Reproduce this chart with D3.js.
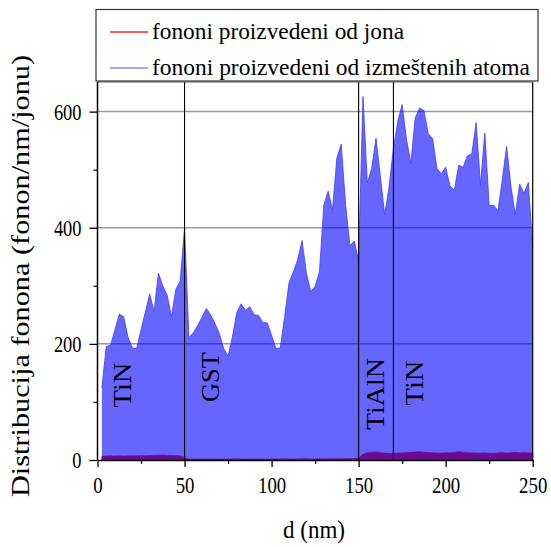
<!DOCTYPE html>
<html>
<head>
<meta charset="utf-8">
<script src="https://cdn.jsdelivr.net/npm/d3@7"></script>
<style>
  html, body { margin: 0; padding: 0; background: #fff; }
  svg { display: block; }
  text { font-family: "Liberation Serif", "DejaVu Serif", serif; fill: #000; }
</style>
</head>
<body>
<svg id="chart" width="551" height="547"></svg>
<script>
// ---- data ----
const dNm = [2.5,5,7.5,10,12.5,15,17.5,20,22.5,25,27.5,30,32.5,35,37.5,40,42.5,45,47.5,50,
  52.5,55,57.5,60,62.5,65,67.5,70,72.5,75,77.5,80,82.5,85,87.5,90,92.5,95,97.5,100,
  102.5,105,107.5,110,112.5,115,117.5,120,122.5,125,127.5,130,132.5,135,137.5,140,142.5,145,147.5,150,
  152.5,155,157.5,160,162.5,165,167.5,170,172.5,175,177.5,180,182.5,185,187.5,190,192.5,195,197.5,200,
  202.5,205,207.5,210,212.5,215,217.5,220,222.5,225,227.5,230,232.5,235,237.5,240,242.5,245,247.5,250];

const displacedAtoms = [124,195,198,224,251,247,212,193,192,224,255,286,255,322,300,284,247,294,308,399,
  211,219,231,246,261,250,235,218,192,179,212,254,269,258,264,250,249,237,236,215,
  192,193,247,305,324,345,378,322,290,299,324,439,463,431,520,544,440,369,377,343,
  626,477,502,554,488,422,471,537,583,612,552,511,589,606,602,562,554,502,493,504,
  472,465,508,504,524,527,581,474,563,438,439,429,482,540,471,422,475,459,478,367];

const ions = [6.5,7,7.2,7,7.3,7,7.2,7.5,7.4,7.6,7.4,7.8,8,8.3,8.6,8.2,7.9,7.6,7.2,4.5,
  1.8,1.6,1.7,1.9,1.6,1.5,1.7,1.8,1.6,1.7,1.9,2,1.8,1.7,1.6,1.8,1.9,1.7,1.6,1.8,
  1.7,1.9,2,1.8,1.7,1.9,2.1,2,1.8,1.9,2.2,2,2.1,2.3,2.1,2.2,2.4,2.3,2.5,4,
  10,12.5,13.5,13.8,13,12,11.5,11.5,12,12.3,12.8,13.2,13.8,14.5,13.5,12.8,12.5,12.2,12,12.3,
  12.6,13,14.5,13.5,12.8,12.5,12.2,12,12.4,11.8,11.5,12.5,13,12.2,12.6,13.2,12.5,12.8,12.5,12.3];

const xTicks = [0,50,100,150,200,250];
const xMinorTicks = [25,75,125,175,225];
const yTicks = [0,200,400,600];
const yMinorTicks = [100,300,500];
const gridValues = [200,400,600];
const boundaries = [50,150,170];
const layerLabels = [
  {name:"TiN", x:122, y:385, len:45},
  {name:"GST", x:210, y:377, len:50},
  {name:"TiAlN", x:375, y:394, len:72},
  {name:"TiN", x:414, y:383, len:45}
];
const seriesNames = ["fononi proizvedeni od jona", "fononi proizvedeni od izmeštenih atoma"];
const xTitle = "d (nm)";
const yTitle = "Distribucija fonona (fonon/nm/jonu)";

// ---- layout ----
const L = 97.5, R = 532.7, T = 82, B = 460;
const svg = d3.select("#chart");
const x = d3.scaleLinear().domain([0,250]).range([L,R]);
const y = d3.scaleLinear().domain([0,651]).range([B,T]);

const pts = dNm.map((d,i) => ({d, a: displacedAtoms[i], ion: ions[i]}));

// grid lines
svg.append("g").selectAll("line").data(gridValues).join("line")
  .attr("x1", L).attr("x2", R)
  .attr("y1", d => y(d)).attr("y2", d => y(d))
  .attr("stroke", "#999").attr("stroke-width", 1.5);

// displaced atoms area
const areaA = d3.area().x(p => x(p.d)).y0(y(0)).y1(p => y(p.a));
svg.append("path").datum(pts).attr("d", areaA)
  .attr("fill", "#0000ff").attr("fill-opacity", 0.6).attr("stroke", "none");
svg.append("path").datum(pts)
  .attr("d", d3.line().x(p => x(p.d)).y(p => y(p.a)))
  .attr("fill", "none").attr("stroke", "#3c3cff").attr("stroke-width", 0.8);

// ions area
const areaI = d3.area().x(p => x(p.d)).y0(y(0)).y1(p => y(p.ion));
svg.append("path").datum(pts).attr("d", areaI)
  .attr("fill", "#6a0a92").attr("stroke", "#7a0a7a").attr("stroke-width", 0.6);

// boundary lines
svg.append("g").selectAll("line").data(boundaries).join("line")
  .attr("x1", d => x(d)).attr("x2", d => x(d))
  .attr("y1", T).attr("y2", B)
  .attr("stroke", "#000").attr("stroke-width", 1.1);

// frame (top / right)
svg.append("line").attr("x1", L).attr("x2", R).attr("y1", T).attr("y2", T)
  .attr("stroke", "#555").attr("stroke-width", 1.2);
svg.append("line").attr("x1", R).attr("x2", R).attr("y1", T).attr("y2", B)
  .attr("stroke", "#000").attr("stroke-width", 1.2);

// axes
function styleAxis(g) {
  g.select(".domain").attr("stroke", "#000").attr("stroke-width", 1.5);
  g.selectAll(".tick line").attr("stroke", "#000").attr("stroke-width", 1.3);
}
const gx = svg.append("g").attr("transform", `translate(0,${B})`)
  .call(d3.axisBottom(x).tickValues(xTicks).tickSize(7).tickSizeOuter(0).tickFormat(d3.format("d")));
styleAxis(gx);
gx.selectAll(".tick text")
  .attr("font-family", "Liberation Serif").attr("font-size", 21).attr("fill", "#000")
  .attr("y", 0).attr("dy", 0).attr("transform", "translate(0,33) scale(1,1.12)")
  .attr("textLength", d => String(d).length * 9.4).attr("lengthAdjust", "spacingAndGlyphs");
svg.append("g").attr("transform", `translate(0,${B})`)
  .call(d3.axisBottom(x).tickValues(xMinorTicks).tickSize(4).tickFormat(""))
  .call(g => { g.select(".domain").remove(); g.selectAll(".tick line").attr("stroke","#000").attr("stroke-width",1.2); });

const gy = svg.append("g").attr("transform", `translate(${L},0)`)
  .call(d3.axisLeft(y).tickValues(yTicks).tickSize(8).tickSizeOuter(0).tickFormat(d3.format("d")));
styleAxis(gy);
gy.select(".domain").attr("d", `M0,${B}V${T}`);
gy.selectAll(".tick text")
  .attr("font-family", "Liberation Serif").attr("font-size", 23).attr("fill", "#000")
  .attr("x", -16).attr("dy", "0.33em")
  .attr("textLength", d => String(d).length * 9.2).attr("lengthAdjust", "spacingAndGlyphs");
svg.append("g").attr("transform", `translate(${L},0)`)
  .call(d3.axisLeft(y).tickValues(yMinorTicks).tickSize(4).tickFormat(""))
  .call(g => { g.select(".domain").remove(); g.selectAll(".tick line").attr("stroke","#000").attr("stroke-width",1.2); });

// axis titles
svg.append("text").text(xTitle)
  .attr("x", 314).attr("y", 538).attr("text-anchor", "middle")
  .attr("font-size", 25).attr("textLength", 62).attr("lengthAdjust", "spacingAndGlyphs");
svg.append("text").text(yTitle)
  .attr("transform", "translate(29,276) rotate(-90)").attr("text-anchor", "middle")
  .attr("font-size", 25).attr("textLength", 442).attr("lengthAdjust", "spacingAndGlyphs");

// layer labels
svg.append("g").selectAll("text").data(layerLabels).join("text")
  .text(d => d.name)
  .attr("transform", d => `translate(${d.x + 9},${d.y}) rotate(-90)`)
  .attr("text-anchor", "middle").attr("font-size", 25)
  .attr("textLength", d => d.len).attr("lengthAdjust", "spacingAndGlyphs");

// legend
const lg = svg.append("g");
lg.append("rect").attr("x", 96).attr("y", 9.5).attr("width", 442).attr("height", 71.5)
  .attr("fill", "#fff").attr("stroke", "#333").attr("stroke-width", 1.2);
const legendColors = ["#ff2020", "#8888ff"];
const legendY = [32, 68];
const legendLen = [252, 378];
seriesNames.forEach((name, i) => {
  lg.append("line").attr("x1", 110).attr("x2", 148).attr("y1", legendY[i]).attr("y2", legendY[i])
    .attr("stroke", legendColors[i]).attr("stroke-width", 1.3);
  lg.append("text").text(name).attr("x", 152).attr("y", legendY[i] + 6.5)
    .attr("font-size", 24).attr("textLength", legendLen[i]).attr("lengthAdjust", "spacingAndGlyphs");
});
</script>
</body>
</html>
